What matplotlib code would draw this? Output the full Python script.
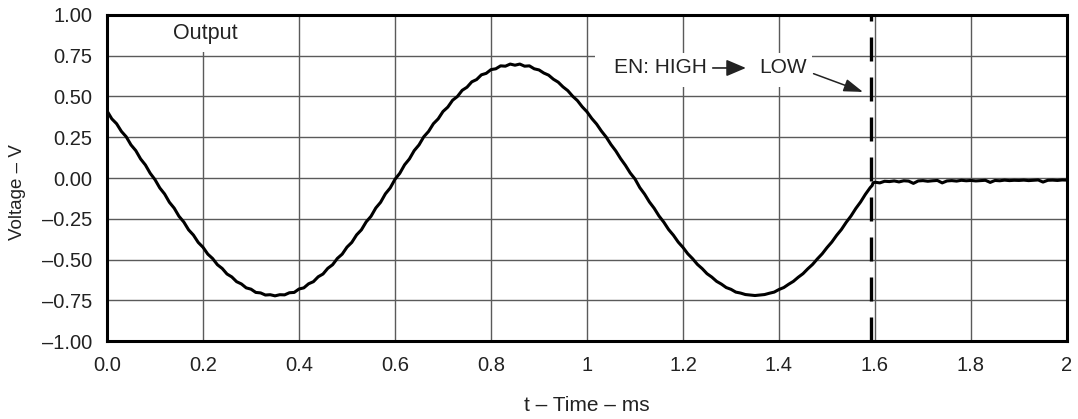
import matplotlib
matplotlib.use('Agg')
import matplotlib.pyplot as plt
from matplotlib.patches import Rectangle

plt.rcParams['font.family'] = ['Liberation Sans', 'DejaVu Sans']

# ---------------- data ----------------
t_wave = [0.00, 0.01, 0.02, 0.03, 0.04, 0.05, 0.06, 0.07, 0.08, 0.09,
          0.10, 0.11, 0.12, 0.13, 0.14, 0.15, 0.16, 0.17, 0.18, 0.19,
          0.20, 0.21, 0.22, 0.23, 0.24, 0.25, 0.26, 0.27, 0.28, 0.29,
          0.30, 0.31, 0.32, 0.33, 0.34, 0.35, 0.36, 0.37, 0.38, 0.39,
          0.40, 0.41, 0.42, 0.43, 0.44, 0.45, 0.46, 0.47, 0.48, 0.49,
          0.50, 0.51, 0.52, 0.53, 0.54, 0.55, 0.56, 0.57, 0.58, 0.59,
          0.60, 0.61, 0.62, 0.63, 0.64, 0.65, 0.66, 0.67, 0.68, 0.69,
          0.70, 0.71, 0.72, 0.73, 0.74, 0.75, 0.76, 0.77, 0.78, 0.79,
          0.80, 0.81, 0.82, 0.83, 0.84, 0.85, 0.86, 0.87, 0.88, 0.89,
          0.90, 0.91, 0.92, 0.93, 0.94, 0.95, 0.96, 0.97, 0.98, 0.99,
          1.00, 1.01, 1.02, 1.03, 1.04, 1.05, 1.06, 1.07, 1.08, 1.09,
          1.10, 1.11, 1.12, 1.13, 1.14, 1.15, 1.16, 1.17, 1.18, 1.19,
          1.20, 1.21, 1.22, 1.23, 1.24, 1.25, 1.26, 1.27, 1.28, 1.29,
          1.30, 1.31, 1.32, 1.33, 1.34, 1.35, 1.36, 1.37, 1.38, 1.39,
          1.40, 1.41, 1.42, 1.43, 1.44, 1.45, 1.46, 1.47, 1.48, 1.49,
          1.50, 1.51, 1.52, 1.53, 1.54, 1.55, 1.56, 1.57, 1.58, 1.59,
          1.594]
v_wave = [0.412, 0.363, 0.333, 0.286, 0.253, 0.203, 0.168, 0.117, 0.080, 0.029,
          -0.010, -0.061, -0.098, -0.149, -0.185, -0.235, -0.270, -0.318, -0.350, -0.395,
          -0.425, -0.467, -0.494, -0.532, -0.555, -0.589, -0.607, -0.636, -0.650, -0.674,
          -0.682, -0.702, -0.705, -0.718, -0.716, -0.723, -0.716, -0.717, -0.704, -0.702,
          -0.681, -0.674, -0.649, -0.636, -0.606, -0.589, -0.554, -0.532, -0.493, -0.467,
          -0.424, -0.395, -0.349, -0.318, -0.269, -0.235, -0.184, -0.149, -0.097, -0.061,
          -0.008, 0.029, 0.081, 0.117, 0.168, 0.203, 0.253, 0.286, 0.333, 0.363,
          0.408, 0.435, 0.477, 0.500, 0.538, 0.557, 0.590, 0.604, 0.633, 0.642,
          0.665, 0.670, 0.688, 0.686, 0.699, 0.692, 0.699, 0.686, 0.688, 0.670,
          0.663, 0.644, 0.631, 0.606, 0.588, 0.559, 0.536, 0.502, 0.475, 0.437,
          0.406, 0.365, 0.331, 0.288, 0.251, 0.205, 0.166, 0.119, 0.078, 0.031,
          -0.006, -0.059, -0.099, -0.147, -0.186, -0.233, -0.271, -0.316, -0.351, -0.393,
          -0.426, -0.465, -0.495, -0.530, -0.556, -0.587, -0.608, -0.634, -0.651, -0.672,
          -0.683, -0.700, -0.706, -0.715, -0.718, -0.721, -0.718, -0.715, -0.707, -0.700,
          -0.684, -0.672, -0.652, -0.634, -0.609, -0.587, -0.557, -0.530, -0.496, -0.465,
          -0.427, -0.393, -0.352, -0.316, -0.272, -0.233, -0.187, -0.147, -0.100, -0.059,
          -0.046]

t_off = [1.596, 1.60, 1.61, 1.62, 1.63, 1.64, 1.65, 1.66, 1.67, 1.68, 1.69,
         1.70, 1.71, 1.72, 1.73, 1.74, 1.75, 1.76, 1.77, 1.78, 1.79,
         1.80, 1.81, 1.82, 1.83, 1.84, 1.85, 1.86, 1.87, 1.88, 1.89,
         1.90, 1.91, 1.92, 1.93, 1.94, 1.95, 1.96, 1.97, 1.98, 1.99, 2.00]
v_off = [-0.030, -0.026, -0.030, -0.020, -0.022, -0.018, -0.024, -0.017, -0.019, -0.033, -0.018,
         -0.016, -0.020, -0.017, -0.015, -0.030, -0.018, -0.016, -0.019, -0.014, -0.017,
         -0.015, -0.018, -0.016, -0.014, -0.027, -0.015, -0.017, -0.013, -0.016, -0.014,
         -0.015, -0.013, -0.016, -0.014, -0.012, -0.025, -0.014, -0.013, -0.015, -0.012, -0.013]

t_enable = 1.592

x_ticks = [0.0, 0.2, 0.4, 0.6, 0.8, 1.0, 1.2, 1.4, 1.6, 1.8, 2.0]
x_ticklabels = ['0.0', '0.2', '0.4', '0.6', '0.8', '1', '1.2', '1.4', '1.6', '1.8', '2']
y_ticks = [-1.0, -0.75, -0.5, -0.25, 0.0, 0.25, 0.5, 0.75, 1.0]
y_ticklabels = ['\u20131.00', '\u20130.75', '\u20130.50', '\u20130.25', '0.00',
                '0.25', '0.50', '0.75', '1.00']

# ---------------- figure ----------------
W, H = 1078, 419
fig = plt.figure(figsize=(W / 100, H / 100), dpi=100)
ax = fig.add_axes([107 / W, 1 - 341 / H, 960 / W, 326 / H])

ax.set_xlim(0, 2)
ax.set_ylim(-1, 1)
ax.set_xticks(x_ticks)
ax.set_xticklabels(x_ticklabels)
ax.set_yticks(y_ticks)
ax.set_yticklabels(y_ticklabels)
ax.tick_params(axis='both', length=0, labelsize=14.5, colors='#222222')
ax.tick_params(axis='x', pad=11)
ax.tick_params(axis='y', pad=10.5)
ax.grid(True, color='#5a5a5a', linewidth=1.0, zorder=0.5)
ax.set_axisbelow(True)
for s in ax.spines.values():
    s.set_linewidth(2.2)
    s.set_color('black')
    s.set_zorder(6)

# white boxes behind labels
ax.add_patch(Rectangle((0.12, 0.773), 0.17, 0.215, facecolor='white',
                       edgecolor='none', zorder=1.5))
ax.add_patch(Rectangle((1.017, 0.558), 0.452, 0.209, facecolor='white',
                       edgecolor='none', zorder=1.5))

# waveform
ax.plot(t_wave + t_off, v_wave + v_off, color='black', linewidth=2.2,
        zorder=3)

# enable transition dashed line
ax.plot([t_enable, t_enable], [-1, 1], color='black', linewidth=2.4,
        dashes=(7.2, 4.8), zorder=2.5)

# texts
ax.text(0.138, 0.885, 'Output', fontsize=15.5, color='#222222',
        ha='left', va='center', zorder=4)
ax.text(1.056, 0.675, 'EN: HIGH', fontsize=15, color='#222222',
        ha='left', va='center', zorder=4)
ax.text(1.358, 0.675, 'LOW', fontsize=15, color='#222222',
        ha='left', va='center', zorder=4)
ax.annotate('', xy=(1.331, 0.675), xytext=(1.262, 0.675),
            arrowprops=dict(arrowstyle='-|>,head_length=0.4,head_width=0.17',
                            mutation_scale=30, lw=1.2, color='#222222',
                            shrinkA=0, shrinkB=0), zorder=4)
ax.annotate('', xy=(1.575, 0.528), xytext=(1.472, 0.640),
            arrowprops=dict(arrowstyle='-|>,head_length=0.45,head_width=0.15',
                            mutation_scale=26, lw=1.1, color='#222222',
                            shrinkA=0, shrinkB=0), zorder=4)

fig.text(587 / W, 1 - 405 / H, 't \u2013 Time \u2013 ms', fontsize=15,
         color='#222222', ha='center', va='center')
fig.text(18 / W, 1 - 192 / H, 'Voltage \u2013 V', fontsize=13.5,
         color='#222222', ha='center', va='center', rotation=90)

fig.savefig('out.png', dpi=100)
